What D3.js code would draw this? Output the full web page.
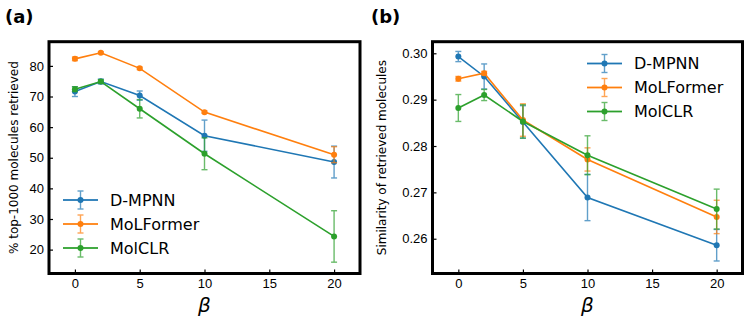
<!DOCTYPE html>
<html>
<head>
<meta charset="utf-8">
<script src="https://cdn.jsdelivr.net/npm/d3@7/dist/d3.min.js"></script>
<style>
  html, body { margin: 0; padding: 0; background: #fff; }
  svg { display: block; font-family: "DejaVu Sans", sans-serif; }
</style>
</head>
<body>
<svg id="chart" width="747" height="318"></svg>
<script>
// ---- data ----
const betas = [0, 2, 5, 10, 20];
const seriesNames = ["D-MPNN", "MoLFormer", "MolCLR"];
const seriesColors = ["#1f77b4", "#ff7f0e", "#2ca02c"];

// panel (a): % top-1000 molecules retrieved
const aDmpnn = [71.6, 74.9, 70.3, 57.2, 48.6];
const aDmpnnErr = [1.6, 0.8, 1.5, 5.1, 5.2];
const aMolformer = [82.3, 84.3, 79.2, 64.9, 51.0];
const aMolformerErr = [0.6, 0.3, 0.4, 0.4, 2.6];
const aMolclr = [72.4, 74.9, 66.0, 51.3, 24.3];
const aMolclrErr = [0.8, 0.6, 3.0, 5.2, 8.4];

// panel (b): similarity of retrieved molecules
const bDmpnn = [0.2993, 0.2950, 0.2852, 0.2689, 0.2586];
const bDmpnnErr = [0.0011, 0.0027, 0.0035, 0.0050, 0.0034];
const bMolformer = [0.2945, 0.2957, 0.2856, 0.2771, 0.2647];
const bMolformerErr = [0.0005, 0.0004, 0.0035, 0.0025, 0.0036];
const bMolclr = [0.2882, 0.2910, 0.2853, 0.2780, 0.2664];
const bMolclrErr = [0.0029, 0.0012, 0.0036, 0.0042, 0.0043];

// tick values / labels
const xTicks = [0, 5, 10, 15, 20];
const aYTicks = [20, 30, 40, 50, 60, 70, 80];
const bYTicks = [0.26, 0.27, 0.28, 0.29, 0.30];

const svg = d3.select("#chart");

function drawPanel(opt) {
  const g = svg.append("g");
  const x = d3.scaleLinear().domain([-2, 22]).range([opt.left, opt.right]);
  const y = d3.scaleLinear().domain(opt.yDomain).range([opt.bottom, opt.top]);

  // axes with inward ticks
  const xAxis = d3.axisBottom(x).tickValues(xTicks).tickSize(-4).tickPadding(5).tickFormat(d3.format("d"));
  const yAxis = d3.axisLeft(y).tickValues(opt.yTicks).tickSize(-4).tickPadding(5).tickFormat(opt.yFormat);

  const gx = g.append("g").attr("transform", `translate(0,${opt.bottom})`).call(xAxis);
  const gy = g.append("g").attr("transform", `translate(${opt.left},0)`).call(yAxis);
  [gx, gy].forEach(a => {
    a.select(".domain").remove();
    a.selectAll(".tick line").attr("stroke", "#000").attr("stroke-width", 1.2);
    a.selectAll(".tick text").attr("fill", "#000").style("font-size", "13px");
  });

  // series
  const series = opt.series;
  series.forEach((s, i) => {
    const color = seriesColors[i];
    const pts = betas.map((b, j) => ({ b, v: s.values[j], e: s.errs[j] }));
    const line = d3.line().x(d => x(d.b)).y(d => y(d.v));
    g.append("path").datum(pts).attr("d", line)
      .attr("fill", "none").attr("stroke", color).attr("stroke-width", 1.6);
    const eb = g.append("g").attr("stroke", color).attr("stroke-width", 1.4).attr("opacity", 0.7);
    pts.forEach(d => {
      eb.append("line").attr("x1", x(d.b)).attr("x2", x(d.b))
        .attr("y1", y(d.v - d.e)).attr("y2", y(d.v + d.e));
      [d.v - d.e, d.v + d.e].forEach(v => {
        eb.append("line").attr("x1", x(d.b) - 3).attr("x2", x(d.b) + 3)
          .attr("y1", y(v)).attr("y2", y(v));
      });
    });
    g.append("g").selectAll("circle").data(pts).join("circle")
      .attr("cx", d => x(d.b)).attr("cy", d => y(d.v)).attr("r", 3)
      .attr("fill", color);
  });

  // frame
  g.append("rect").attr("x", opt.left).attr("y", opt.top)
    .attr("width", opt.right - opt.left).attr("height", opt.bottom - opt.top)
    .attr("fill", "none").attr("stroke", "#000").attr("stroke-width", 3);

  // legend
  seriesNames.forEach((name, i) => {
    const ly = opt.legendY + i * 24;
    const c = seriesColors[i];
    const lg = g.append("g");
    lg.append("line").attr("x1", opt.legendX).attr("x2", opt.legendX + 35)
      .attr("y1", ly).attr("y2", ly).attr("stroke", c).attr("stroke-width", 1.6);
    const mx = opt.legendX + 17.5;
    const e = lg.append("g").attr("stroke", c).attr("stroke-width", 1.4).attr("opacity", 0.7);
    e.append("line").attr("x1", mx).attr("x2", mx).attr("y1", ly - 9).attr("y2", ly + 9);
    e.append("line").attr("x1", mx - 3).attr("x2", mx + 3).attr("y1", ly - 9).attr("y2", ly - 9);
    e.append("line").attr("x1", mx - 3).attr("x2", mx + 3).attr("y1", ly + 9).attr("y2", ly + 9);
    e.append("line").attr("x1", opt.legendX).attr("x2", opt.legendX + 35)
      .attr("y1", ly).attr("y2", ly).attr("stroke-width", 1.6);
    lg.append("circle").attr("cx", mx).attr("cy", ly).attr("r", 3).attr("fill", c);
    lg.append("text").attr("x", opt.legendX + 47).attr("y", ly)
      .attr("dominant-baseline", "central").style("font-size", "16px").text(name);
  });

  // axis labels
  g.append("text")
    .attr("transform", `translate(${opt.yLabelX},${(opt.top + opt.bottom) / 2}) rotate(-90)`)
    .attr("text-anchor", "middle").attr("dominant-baseline", "central")
    .style("font-size", "12px").text(opt.yLabel);
  g.append("text").attr("x", (opt.left + opt.right) / 2).attr("y", 312)
    .attr("text-anchor", "middle").style("font-size", "20px").style("font-style", "italic")
    .text("β");

  // panel label
  g.append("text").attr("x", opt.panelX).attr("y", 23)
    .style("font-size", "18px").style("font-weight", "bold").text(opt.panel);
}

drawPanel({
  left: 49, right: 360, top: 41.7, bottom: 273.5,
  yDomain: [12.2, 87.9], yTicks: aYTicks, yFormat: d3.format("d"),
  series: [
    { values: aDmpnn, errs: aDmpnnErr },
    { values: aMolformer, errs: aMolformerErr },
    { values: aMolclr, errs: aMolclrErr }
  ],
  legendX: 63, legendY: 200,
  yLabel: "% top-1000 molecules retrieved", yLabelX: 14,
  panel: "(a)", panelX: 5
});

drawPanel({
  left: 432.5, right: 742.5, top: 41.7, bottom: 273.5,
  yDomain: [0.2525, 0.3025], yTicks: bYTicks, yFormat: d3.format(".2f"),
  series: [
    { values: bDmpnn, errs: bDmpnnErr },
    { values: bMolformer, errs: bMolformerErr },
    { values: bMolclr, errs: bMolclrErr }
  ],
  legendX: 587, legendY: 63.5,
  yLabel: "Similarity of retrieved molecules", yLabelX: 382,
  panel: "(b)", panelX: 371
});
</script>
</body>
</html>
